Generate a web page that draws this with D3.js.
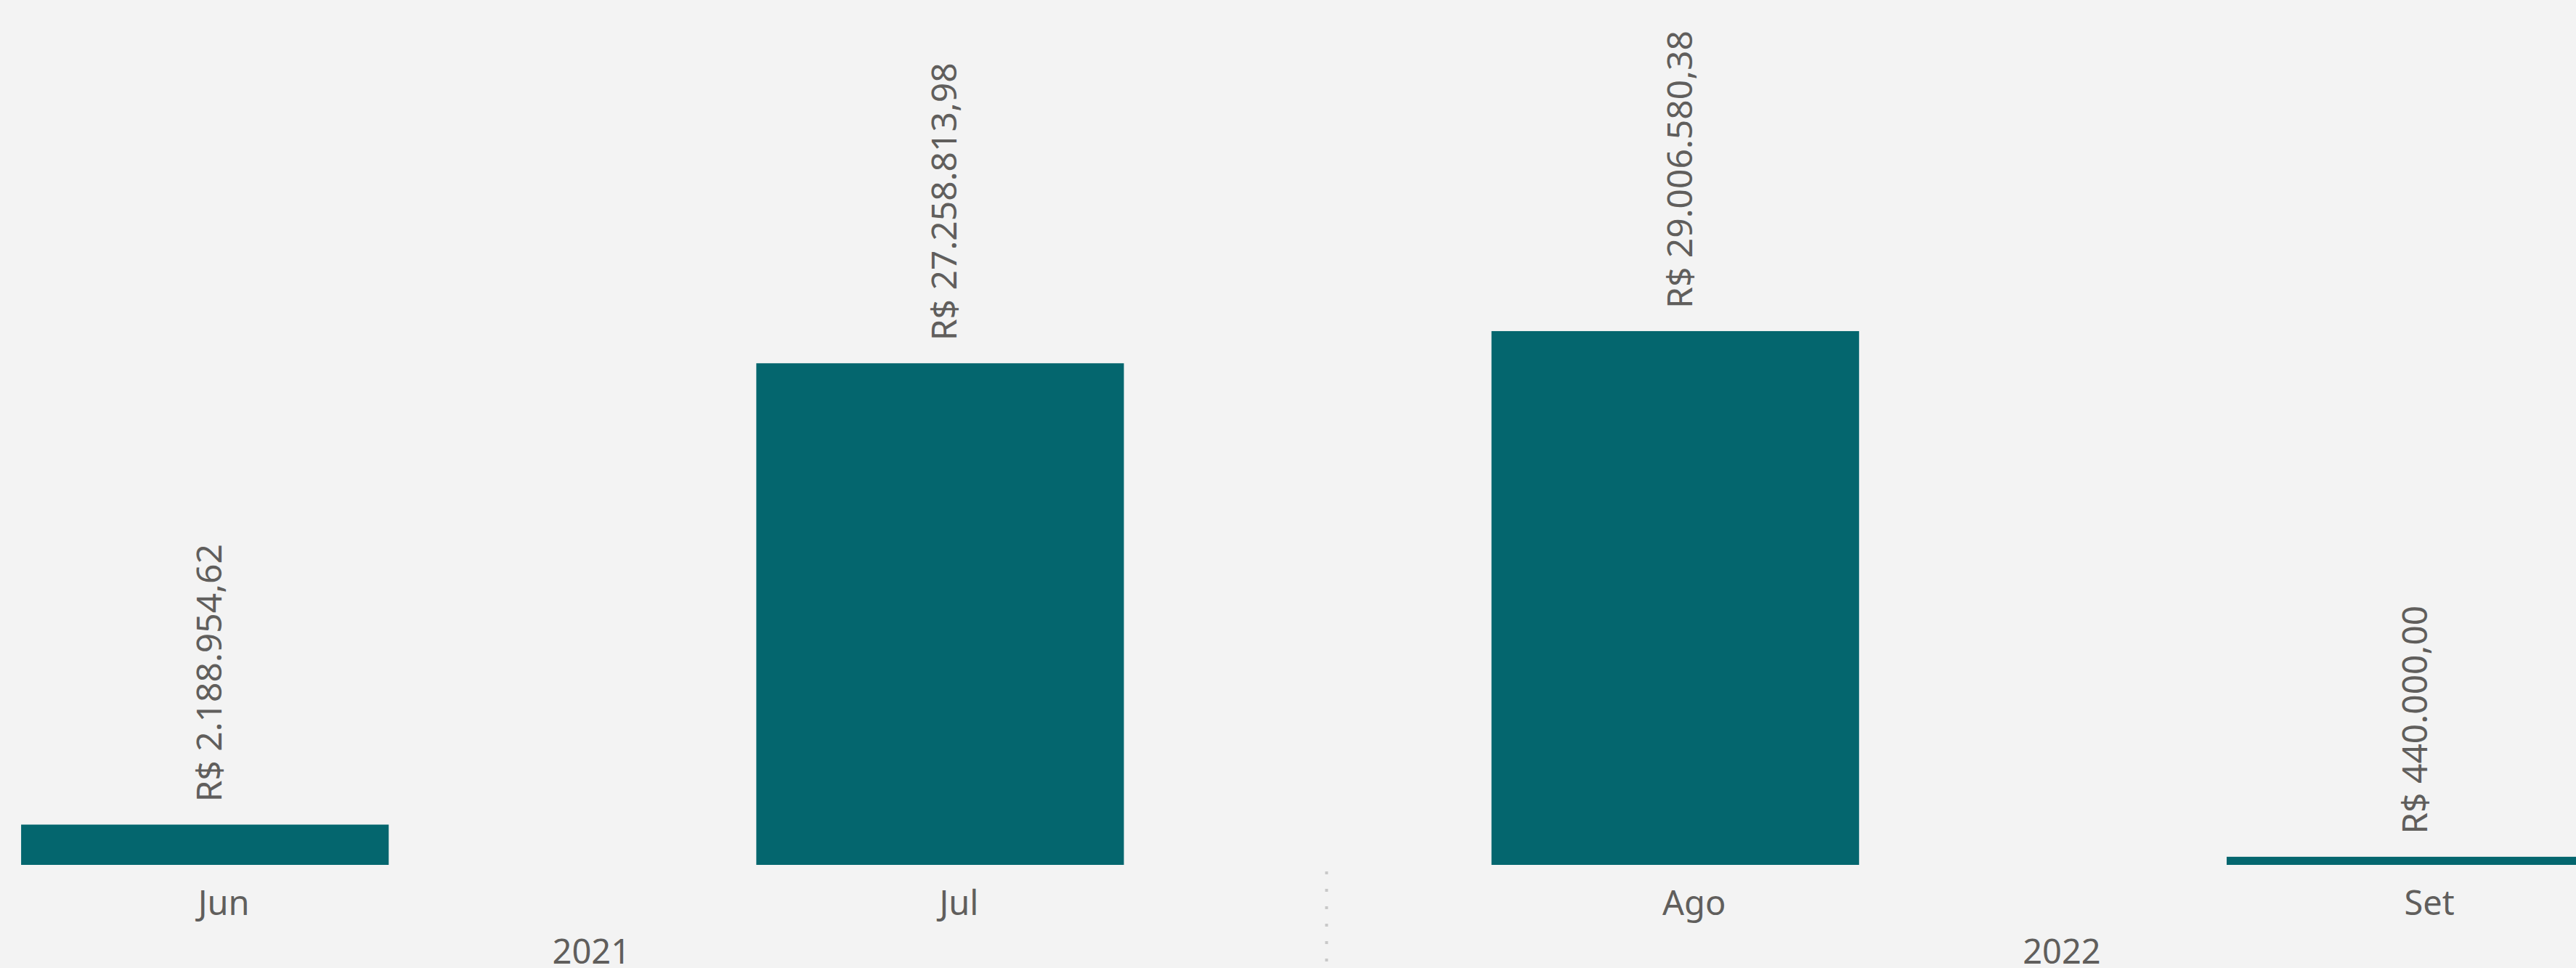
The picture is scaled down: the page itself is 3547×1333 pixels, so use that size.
<!DOCTYPE html>
<html>
<head>
<meta charset="utf-8">
<script src="https://cdn.jsdelivr.net/npm/d3@7"></script>
<style>
  html, body { margin: 0; padding: 0; background: #F3F3F3; overflow: hidden; }
  svg { display: block; }
</style>
</head>
<body>
<svg id="chart" width="3547" height="1333"></svg>
<script>
const categories = ["Jun", "Jul", "Ago", "Set"];
const categoryYears = ["2021", "2021", "2022", "2022"];
const yearLabels = ["2021", "2022"];
const values = [2188954.62, 27258813.98, 29006580.38, 440000.00];

const W = 3547, H = 1333;
const baseY = 1191;
const axisShift = 26;
const barColor = "#04666E";
const textColor = "#605E5C";
const fontFamily = "'Noto Sans', 'Open Sans', sans-serif";

const locale = d3.formatLocale({ decimal: ",", thousands: ".", grouping: [3], currency: ["R$ ", ""] });
const fmt = locale.format("$,.2f");

const svg = d3.select("#chart");
svg.append("rect").attr("width", W).attr("height", H).attr("fill", "#F3F3F3");

const step = 1012.3;
const x = d3.scaleBand()
  .domain(categories)
  .range([-224, -224 + 4 * step])
  .paddingInner(0.5)
  .paddingOuter(0.25);

const y = d3.scaleLinear().domain([0, 47000000]).range([baseY, 0]);

const data = categories.map((c, i) => ({ cat: c, year: categoryYears[i], value: values[i] }));

// bars
svg.append("g").selectAll("rect")
  .data(data)
  .join("rect")
  .attr("x", d => x(d.cat))
  .attr("y", d => y(d.value))
  .attr("width", x.bandwidth())
  .attr("height", d => y(0) - y(d.value))
  .attr("fill", barColor);

// value labels (rotated)
svg.append("g").selectAll("text")
  .data(data)
  .join("text")
  .attr("transform", d => `translate(${x(d.cat) + x.bandwidth() / 2 + 23},${y(d.value) - 31}) rotate(-90)`)
  .attr("text-anchor", "start")
  .attr("font-family", fontFamily)
  .attr("font-size", 48)
  .attr("fill", textColor)
  .text(d => fmt(d.value));

// category axis
const axis = d3.axisBottom(x).tickSize(0).tickPadding(36);
const gAxis = svg.append("g")
  .attr("transform", `translate(${axisShift},${baseY})`)
  .call(axis);
gAxis.select(".domain").remove();
gAxis.selectAll("text")
  .attr("font-family", fontFamily)
  .attr("font-size", 47)
  .attr("fill", textColor);

// year labels
const yearGroups = yearLabels.map(yr => {
  const cats = data.filter(d => d.year === yr).map(d => x(d.cat) + x.bandwidth() / 2 + axisShift);
  return { year: yr, cx: d3.mean(cats) };
});
svg.append("g").selectAll("text")
  .data(yearGroups)
  .join("text")
  .attr("x", d => d.cx)
  .attr("y", 1327)
  .attr("text-anchor", "middle")
  .attr("font-family", fontFamily)
  .attr("font-size", 47)
  .attr("fill", textColor)
  .text(d => d.year);

// year separator (dotted)
for (let i = 1; i < yearLabels.length; i++) {
  const lastPrev = data.filter(d => d.year === yearLabels[i - 1]).slice(-1)[0];
  const firstNext = data.filter(d => d.year === yearLabels[i])[0];
  const sx = (x(lastPrev.cat) + x(firstNext.cat)) / 2 + x.bandwidth() / 2 + axisShift;
  svg.append("line")
    .attr("x1", sx).attr("x2", sx)
    .attr("y1", 1200).attr("y2", 1333)
    .attr("stroke", "#C8C8C8")
    .attr("stroke-width", 4)
    .attr("stroke-dasharray", "4 20");
}
</script>
</body>
</html>
